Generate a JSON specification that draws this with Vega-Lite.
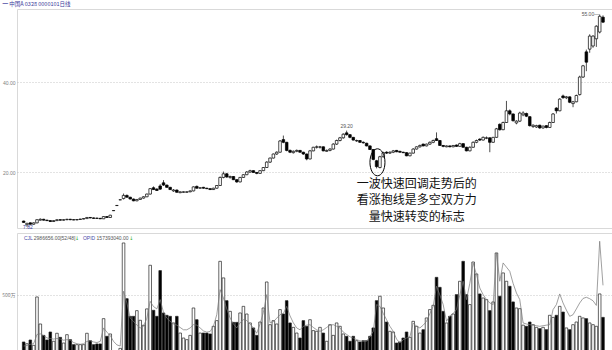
{
"$schema": "https://vega.github.io/schema/vega-lite/v6.json",
"background": "white",
"padding": {"top": 2, "left": 0, "right": 0, "bottom": 0},
"spacing": 1,
"title": {"text": "━ 中国A 0328 0000101日线", "anchor": "start", "frame": "bounds", "fontSize": 5.5, "font": "Noto Sans CJK SC", "fontWeight": "normal", "color": "#3a3a9a", "offset": 1, "dx": 2},
"config": {
"font": "Liberation Sans",
"view": {"stroke": "#d9d9d9", "strokeWidth": 1},
"axis": {"domain": false, "ticks": false, "labelFontSize": 5, "labelColor": "#808080", "labelFont": "Liberation Sans", "labelPadding": 2, "minExtent": 16, "maxExtent": 16, "gridColor": "#b0b0b0", "gridDash": [1, 2], "gridWidth": 0.7}
},
"datasets": {"k": [
{"i":0,"o":9.1,"h":9.2,"l":8.7,"c":8.8,"v":95,"m":60},
{"i":1,"o":8.3,"h":8.7,"l":7.82,"c":8.6,"v":80,"m":65},
{"i":2,"o":8.7,"h":8.8,"l":8.3,"c":8.4,"v":112,"m":75},
{"i":3,"o":8.4,"h":8.8,"l":8.3,"c":8.7,"v":66,"m":80},
{"i":4,"o":8.7,"h":9.5,"l":8.6,"c":9.4,"v":483,"m":160},
{"i":5,"o":9.3,"h":9.7,"l":9.2,"c":9.5,"v":250,"m":165},
{"i":6,"o":9.5,"h":9.6,"l":9.2,"c":9.3,"v":152,"m":150},
{"i":7,"o":9.3,"h":9.4,"l":9.1,"c":9.2,"v":112,"m":130},
{"i":8,"o":9.2,"h":9.3,"l":8.9,"c":9.0,"v":181,"m":125},
{"i":9,"o":9.0,"h":9.3,"l":8.9,"c":9.2,"v":101,"m":120},
{"i":10,"o":9.2,"h":9.5,"l":9.1,"c":9.4,"v":170,"m":125},
{"i":11,"o":9.4,"h":9.5,"l":9.2,"c":9.3,"v":135,"m":120},
{"i":12,"o":9.3,"h":9.5,"l":9.2,"c":9.4,"v":86,"m":110},
{"i":13,"o":9.4,"h":9.6,"l":9.3,"c":9.5,"v":158,"m":115},
{"i":14,"o":9.5,"h":9.6,"l":9.3,"c":9.4,"v":115,"m":110},
{"i":15,"o":9.4,"h":9.5,"l":9.3,"c":9.35,"v":72,"m":90},
{"i":16,"o":9.35,"h":9.5,"l":9.3,"c":9.45,"v":72,"m":80},
{"i":17,"o":9.45,"h":9.6,"l":9.4,"c":9.55,"v":72,"m":75},
{"i":18,"o":9.55,"h":9.7,"l":9.5,"c":9.65,"v":72,"m":80},
{"i":19,"o":9.65,"h":10.0,"l":9.6,"c":9.9,"v":170,"m":100},
{"i":20,"o":9.9,"h":10.0,"l":9.7,"c":9.8,"v":106,"m":105},
{"i":21,"o":9.8,"h":9.9,"l":9.6,"c":9.7,"v":72,"m":95},
{"i":22,"o":9.75,"h":9.85,"l":9.6,"c":9.7,"v":78,"m":90},
{"i":23,"o":9.7,"h":9.8,"l":9.55,"c":9.6,"v":78,"m":100},
{"i":24,"o":9.6,"h":10.2,"l":9.55,"c":10.1,"v":296,"m":216},
{"i":25,"o":10.1,"h":10.2,"l":9.8,"c":9.9,"v":144,"m":180},
{"i":26,"o":9.9,"h":10.5,"l":9.8,"c":10.4,"v":164,"m":150},
{"i":27,"o":11.4,"h":11.44,"l":11.4,"c":11.44,"v":15,"m":100},
{"i":28,"o":12.54,"h":12.58,"l":12.54,"c":12.58,"v":10,"m":70},
{"i":29,"o":13.8,"h":13.84,"l":13.8,"c":13.84,"v":40,"m":60},
{"i":30,"o":14.1,"h":15.22,"l":13.9,"c":14.8,"v":948,"m":532},
{"i":31,"o":14.8,"h":15.0,"l":14.3,"c":14.4,"v":468,"m":431},
{"i":32,"o":14.4,"h":14.5,"l":13.9,"c":14.0,"v":316,"m":300},
{"i":33,"o":14.0,"h":14.1,"l":13.5,"c":13.6,"v":316,"m":273},
{"i":34,"o":13.6,"h":14.0,"l":13.5,"c":13.9,"v":365,"m":240},
{"i":35,"o":13.9,"h":14.3,"l":13.8,"c":14.2,"v":282,"m":216},
{"i":36,"o":14.2,"h":14.6,"l":14.1,"c":14.5,"v":239,"m":230},
{"i":37,"o":14.5,"h":15.2,"l":14.4,"c":15.1,"v":380,"m":300},
{"i":38,"o":15.1,"h":16.4,"l":15.0,"c":16.3,"v":756,"m":445},
{"i":39,"o":16.5,"h":16.8,"l":16.0,"c":16.1,"v":368,"m":400},
{"i":40,"o":16.2,"h":16.4,"l":15.8,"c":15.9,"v":316,"m":380},
{"i":41,"o":16.9,"h":17.3,"l":16.0,"c":16.2,"v":710,"m":460},
{"i":42,"o":17.6,"h":18.2,"l":16.9,"c":17.1,"v":345,"m":350},
{"i":43,"o":17.1,"h":17.2,"l":16.5,"c":16.6,"v":325,"m":300},
{"i":44,"o":16.6,"h":16.7,"l":16.0,"c":16.1,"v":316,"m":273},
{"i":45,"o":15.8,"h":16.2,"l":15.6,"c":16.0,"v":259,"m":250},
{"i":46,"o":16.0,"h":16.1,"l":15.4,"c":15.5,"v":316,"m":240},
{"i":47,"o":15.4,"h":15.7,"l":15.3,"c":15.6,"v":172,"m":220},
{"i":48,"o":15.5,"h":15.7,"l":15.4,"c":15.6,"v":129,"m":200},
{"i":49,"o":15.5,"h":15.7,"l":15.4,"c":15.6,"v":115,"m":200},
{"i":50,"o":15.6,"h":15.9,"l":15.5,"c":15.8,"v":152,"m":216},
{"i":51,"o":15.8,"h":16.8,"l":15.7,"c":16.7,"v":388,"m":244},
{"i":52,"o":16.8,"h":17.0,"l":16.3,"c":16.4,"v":287,"m":240},
{"i":53,"o":16.4,"h":16.6,"l":16.3,"c":16.5,"v":172,"m":216},
{"i":54,"o":16.6,"h":16.7,"l":16.3,"c":16.4,"v":172,"m":190},
{"i":55,"o":16.4,"h":16.5,"l":16.2,"c":16.3,"v":172,"m":180},
{"i":56,"o":16.3,"h":16.4,"l":16.0,"c":16.1,"v":164,"m":185},
{"i":57,"o":16.1,"h":16.5,"l":16.0,"c":16.4,"v":230,"m":230},
{"i":58,"o":16.4,"h":17.1,"l":16.3,"c":17.0,"v":279,"m":330},
{"i":59,"o":17.0,"h":19.0,"l":16.9,"c":18.8,"v":790,"m":546},
{"i":60,"o":18.8,"h":20.1,"l":18.6,"c":19.6,"v":647,"m":474},
{"i":61,"o":19.6,"h":19.8,"l":18.7,"c":18.9,"v":451,"m":380},
{"i":62,"o":18.8,"h":19.2,"l":18.5,"c":19.0,"v":359,"m":302},
{"i":63,"o":19.0,"h":19.1,"l":18.2,"c":18.3,"v":264,"m":250},
{"i":64,"o":18.3,"h":18.4,"l":17.6,"c":17.8,"v":264,"m":216},
{"i":65,"o":17.8,"h":18.9,"l":17.7,"c":18.8,"v":345,"m":260},
{"i":66,"o":18.8,"h":19.5,"l":18.7,"c":19.4,"v":402,"m":287},
{"i":67,"o":19.4,"h":20.2,"l":19.3,"c":20.0,"v":336,"m":280},
{"i":68,"o":20.0,"h":20.5,"l":19.8,"c":20.3,"v":259,"m":250},
{"i":69,"o":20.3,"h":20.4,"l":19.8,"c":19.9,"v":216,"m":216},
{"i":70,"o":19.9,"h":20.0,"l":19.5,"c":19.7,"v":152,"m":170},
{"i":71,"o":19.7,"h":20.4,"l":19.6,"c":20.3,"v":267,"m":250},
{"i":72,"o":20.3,"h":21.1,"l":20.2,"c":21.0,"v":388,"m":350},
{"i":73,"o":21.0,"h":22.4,"l":20.9,"c":22.2,"v":612,"m":503},
{"i":74,"o":22.2,"h":23.2,"l":22.0,"c":23.1,"v":244,"m":260},
{"i":75,"o":23.1,"h":24.1,"l":23.0,"c":24.0,"v":279,"m":270},
{"i":76,"o":24.0,"h":24.6,"l":23.8,"c":24.4,"v":250,"m":300},
{"i":77,"o":24.4,"h":27.1,"l":24.3,"c":26.9,"v":374,"m":330},
{"i":78,"o":27.2,"h":28.1,"l":26.4,"c":26.6,"v":336,"m":340},
{"i":79,"o":26.6,"h":26.7,"l":24.6,"c":24.8,"v":451,"m":402},
{"i":80,"o":24.8,"h":25.0,"l":24.2,"c":24.4,"v":259,"m":320},
{"i":81,"o":24.3,"h":24.8,"l":24.1,"c":24.6,"v":221,"m":260},
{"i":82,"o":24.6,"h":25.0,"l":24.4,"c":24.8,"v":172,"m":216},
{"i":83,"o":24.8,"h":24.9,"l":24.3,"c":24.4,"v":129,"m":200},
{"i":84,"o":24.4,"h":24.5,"l":23.8,"c":24.0,"v":279,"m":230},
{"i":85,"o":24.0,"h":24.1,"l":22.6,"c":22.9,"v":230,"m":240},
{"i":86,"o":22.9,"h":24.9,"l":22.8,"c":24.7,"v":287,"m":244},
{"i":87,"o":24.7,"h":25.6,"l":24.6,"c":25.5,"v":193,"m":220},
{"i":88,"o":25.5,"h":25.9,"l":25.2,"c":25.6,"v":187,"m":200},
{"i":89,"o":25.5,"h":25.8,"l":25.2,"c":25.6,"v":221,"m":187},
{"i":90,"o":25.6,"h":25.7,"l":24.6,"c":24.7,"v":172,"m":200},
{"i":91,"o":24.6,"h":25.0,"l":24.5,"c":24.8,"v":101,"m":220},
{"i":92,"o":24.8,"h":25.3,"l":24.6,"c":25.1,"v":244,"m":240},
{"i":93,"o":25.1,"h":26.4,"l":25.0,"c":26.2,"v":152,"m":244},
{"i":94,"o":26.2,"h":27.2,"l":26.0,"c":27.0,"v":259,"m":230},
{"i":95,"o":27.0,"h":27.8,"l":26.8,"c":27.6,"v":230,"m":216},
{"i":96,"o":27.6,"h":28.6,"l":27.4,"c":28.4,"v":164,"m":180},
{"i":97,"o":28.7,"h":29.2,"l":28.1,"c":28.3,"v":144,"m":160},
{"i":98,"o":28.3,"h":28.4,"l":27.5,"c":27.7,"v":101,"m":140},
{"i":99,"o":27.7,"h":27.8,"l":27.0,"c":27.1,"v":144,"m":129},
{"i":100,"o":26.9,"h":27.2,"l":26.7,"c":27.0,"v":106,"m":115},
{"i":101,"o":27.0,"h":27.1,"l":26.5,"c":26.6,"v":95,"m":105},
{"i":102,"o":26.6,"h":26.8,"l":26.3,"c":26.5,"v":106,"m":101},
{"i":103,"o":26.4,"h":26.5,"l":25.7,"c":25.8,"v":106,"m":101},
{"i":104,"o":25.8,"h":25.9,"l":24.9,"c":25.0,"v":144,"m":140},
{"i":105,"o":25.0,"h":25.1,"l":22.6,"c":22.8,"v":216,"m":187},
{"i":106,"o":22.5,"h":22.7,"l":20.8,"c":21.2,"v":451,"m":417},
{"i":107,"o":21.0,"h":23.6,"l":20.8,"c":23.4,"v":489,"m":402},
{"i":108,"o":23.4,"h":24.5,"l":23.2,"c":24.3,"v":388,"m":340},
{"i":109,"o":24.4,"h":24.6,"l":24.0,"c":24.2,"v":267,"m":287},
{"i":110,"o":24.2,"h":24.6,"l":24.0,"c":24.4,"v":187,"m":230},
{"i":111,"o":24.4,"h":24.9,"l":24.2,"c":24.7,"v":181,"m":187},
{"i":112,"o":24.8,"h":24.9,"l":24.4,"c":24.5,"v":86,"m":120},
{"i":113,"o":24.6,"h":24.7,"l":24.3,"c":24.4,"v":95,"m":86},
{"i":114,"o":24.4,"h":24.5,"l":24.2,"c":24.3,"v":129,"m":115},
{"i":115,"o":24.3,"h":24.4,"l":23.5,"c":23.6,"v":181,"m":129},
{"i":116,"o":23.6,"h":24.3,"l":23.5,"c":24.2,"v":135,"m":140},
{"i":117,"o":24.2,"h":25.3,"l":24.1,"c":25.1,"v":273,"m":259},
{"i":118,"o":25.1,"h":25.7,"l":25.0,"c":25.6,"v":230,"m":230},
{"i":119,"o":25.6,"h":26.1,"l":25.4,"c":25.9,"v":172,"m":216},
{"i":120,"o":26.2,"h":26.3,"l":25.7,"c":25.8,"v":201,"m":240},
{"i":121,"o":25.8,"h":26.3,"l":25.7,"c":26.2,"v":302,"m":273},
{"i":122,"o":26.2,"h":26.8,"l":26.0,"c":26.6,"v":374,"m":340},
{"i":123,"o":26.6,"h":27.2,"l":26.4,"c":27.0,"v":411,"m":402},
{"i":124,"o":27.4,"h":28.8,"l":26.9,"c":27.0,"v":652,"m":575},
{"i":125,"o":27.0,"h":27.1,"l":25.8,"c":25.9,"v":566,"m":500},
{"i":126,"o":25.9,"h":26.0,"l":25.5,"c":25.7,"v":359,"m":417},
{"i":127,"o":25.6,"h":25.9,"l":25.5,"c":25.8,"v":259,"m":273},
{"i":128,"o":25.8,"h":25.9,"l":25.5,"c":25.6,"v":316,"m":320},
{"i":129,"o":25.6,"h":26.0,"l":25.5,"c":25.9,"v":336,"m":340},
{"i":130,"o":26.0,"h":26.1,"l":25.6,"c":25.7,"v":503,"m":374},
{"i":131,"o":25.7,"h":26.5,"l":25.6,"c":26.3,"v":618,"m":500},
{"i":132,"o":26.3,"h":26.4,"l":25.4,"c":25.5,"v":790,"m":618},
{"i":133,"o":25.5,"h":25.6,"l":24.6,"c":24.7,"v":503,"m":460},
{"i":134,"o":24.7,"h":25.7,"l":24.6,"c":25.5,"v":417,"m":600},
{"i":135,"o":25.5,"h":26.8,"l":25.4,"c":26.6,"v":784,"m":776},
{"i":136,"o":26.6,"h":27.2,"l":26.4,"c":27.0,"v":681,"m":675},
{"i":137,"o":27.3,"h":27.5,"l":26.9,"c":27.1,"v":509,"m":560},
{"i":138,"o":27.1,"h":27.9,"l":27.0,"c":27.7,"v":474,"m":503},
{"i":139,"o":27.5,"h":27.9,"l":27.3,"c":27.6,"v":460,"m":460},
{"i":140,"o":27.6,"h":27.7,"l":24.4,"c":26.6,"v":365,"m":431},
{"i":141,"o":26.6,"h":27.8,"l":26.5,"c":27.7,"v":440,"m":417},
{"i":142,"o":27.7,"h":29.8,"l":27.6,"c":29.6,"v":862,"m":862},
{"i":143,"o":30.6,"h":30.8,"l":29.2,"c":29.4,"v":489,"m":618},
{"i":144,"o":29.4,"h":31.2,"l":29.3,"c":31.0,"v":690,"m":776},
{"i":145,"o":31.0,"h":35.8,"l":30.9,"c":33.6,"v":618,"m":740},
{"i":146,"o":33.6,"h":33.9,"l":32.6,"c":32.9,"v":575,"m":704},
{"i":147,"o":32.9,"h":33.0,"l":31.2,"c":31.4,"v":440,"m":600},
{"i":148,"o":30.9,"h":31.5,"l":30.6,"c":31.3,"v":388,"m":517},
{"i":149,"o":31.3,"h":33.4,"l":31.1,"c":33.1,"v":382,"m":460},
{"i":150,"o":32.7,"h":33.5,"l":32.4,"c":33.1,"v":240,"m":259},
{"i":151,"o":33.0,"h":33.2,"l":32.2,"c":32.4,"v":230,"m":250},
{"i":152,"o":32.3,"h":32.4,"l":30.1,"c":30.3,"v":267,"m":244},
{"i":153,"o":30.1,"h":30.6,"l":29.8,"c":30.4,"v":244,"m":240},
{"i":154,"o":30.0,"h":30.5,"l":29.8,"c":30.3,"v":221,"m":235},
{"i":155,"o":30.4,"h":30.5,"l":29.6,"c":29.8,"v":210,"m":230},
{"i":156,"o":29.8,"h":30.3,"l":29.6,"c":30.2,"v":221,"m":235},
{"i":157,"o":30.3,"h":30.4,"l":29.7,"c":29.9,"v":201,"m":240},
{"i":158,"o":29.9,"h":31.2,"l":29.8,"c":31.0,"v":325,"m":244},
{"i":159,"o":31.0,"h":33.1,"l":30.9,"c":32.9,"v":307,"m":374},
{"i":160,"o":34.2,"h":34.4,"l":33.0,"c":33.6,"v":325,"m":417},
{"i":161,"o":33.6,"h":36.4,"l":33.5,"c":36.2,"v":402,"m":509},
{"i":162,"o":36.9,"h":37.2,"l":36.3,"c":36.5,"v":353,"m":431},
{"i":163,"o":36.5,"h":36.9,"l":36.2,"c":36.7,"v":216,"m":370},
{"i":164,"o":36.7,"h":36.8,"l":35.3,"c":35.5,"v":201,"m":316},
{"i":165,"o":35.2,"h":35.8,"l":34.4,"c":35.6,"v":244,"m":330},
{"i":166,"o":35.6,"h":37.2,"l":35.5,"c":37.0,"v":267,"m":380},
{"i":167,"o":37.2,"h":41.4,"l":37.0,"c":41.1,"v":316,"m":431},
{"i":168,"o":41.1,"h":43.8,"l":40.9,"c":43.6,"v":302,"m":470},
{"i":169,"o":46.7,"h":47.2,"l":42.4,"c":44.4,"v":296,"m":480},
{"i":170,"o":47.3,"h":50.6,"l":46.5,"c":50.2,"v":259,"m":468},
{"i":171,"o":48.0,"h":50.4,"l":47.6,"c":50.2,"v":244,"m":450},
{"i":172,"o":49.6,"h":52.6,"l":47.8,"c":52.4,"v":230,"m":410},
{"i":173,"o":51.1,"h":55.0,"l":50.8,"c":54.6,"v":509,"m":963},
{"i":174,"o":54.4,"h":54.8,"l":53.1,"c":53.3,"v":307,"m":583}
]},
"vconcat": [
{
"width": 596, "height": 219,
"data": {"name": "k"},
"layer": [
{"mark": {"type": "rule", "color": "#000", "strokeWidth": 0.7},
 "encoding": {
  "x": {"field": "i", "type": "quantitative", "scale": {"domain": [-0.5, 175.5], "nice": false, "zero": false}, "axis": null},
  "y": {"field": "l", "type": "quantitative", "scale": {"domain": [7.56, 56.22], "nice": false, "zero": false}, "axis": {"values": [20, 40], "format": ".2f", "grid": true, "title": null}},
  "y2": {"field": "h"}}},
{"mark": {"type": "bar", "size": 2.6, "stroke": "#000", "strokeWidth": 0.7},
 "encoding": {
  "x": {"field": "i", "type": "quantitative"},
  "y": {"field": "o", "type": "quantitative"},
  "y2": {"field": "c"},
  "fill": {"condition": {"test": "datum.c < datum.o", "value": "#000"}, "value": "#fff"}}},
{"transform": [{"filter": "datum.i == 97"}],
 "mark": {"type": "text", "fontSize": 5, "color": "#555", "baseline": "bottom", "dy": -1.5},
 "encoding": {"x": {"field": "i", "type": "quantitative"}, "y": {"field": "h", "type": "quantitative"}, "text": {"field": "h", "format": ".2f"}}},
{"transform": [{"filter": "datum.i == 173"}, {"calculate": "format(datum.h, '.2f') + '—'", "as": "lab"}],
 "mark": {"type": "text", "fontSize": 5, "color": "#555", "align": "right", "baseline": "middle", "dx": -0.5},
 "encoding": {"x": {"field": "i", "type": "quantitative"}, "y": {"field": "h", "type": "quantitative"}, "text": {"field": "lab"}}},
{"transform": [{"filter": "datum.i == 1"}],
 "mark": {"type": "text", "fontSize": 5, "color": "#3a3a9a", "align": "left", "baseline": "middle", "dx": -4},
 "encoding": {"x": {"field": "i", "type": "quantitative"}, "y": {"field": "l", "type": "quantitative"}, "text": {"field": "l", "format": ".2f"}}},
{"data": {"values": [{"n": 1}]},
 "mark": {"type": "point", "shape": "M0,-1 A0.556,1 0 1,1 0,1 A0.556,1 0 1,1 0,-1 Z", "size": 729, "filled": false, "stroke": "#000", "strokeWidth": 1, "opacity": 1},
 "encoding": {"x": {"datum": 106.26}, "y": {"datum": 22.16}}},
{"data": {"values": [{"n": 1}]},
 "mark": {"type": "text", "text": ["一波快速回调走势后的", "看涨抱线是多空双方力", "量快速转变的标志"], "font": "Noto Sans CJK SC", "fontSize": 12, "lineHeight": 16.5, "align": "center", "baseline": "top", "color": "#111"},
 "encoding": {"x": {"datum": 118.07}, "y": {"datum": 18.45}}}
]
},
{
"width": 596, "height": 120,
"data": {"name": "k"},
"layer": [
{"mark": {"type": "bar", "size": 2.6, "stroke": "#222", "strokeWidth": 0.7},
 "encoding": {
  "x": {"field": "i", "type": "quantitative", "scale": {"domain": [-0.5, 175.5], "nice": false, "zero": false}, "axis": null},
  "y": {"field": "v", "type": "quantitative", "scale": {"domain": [0, 1034], "nice": false}, "axis": {"values": [500], "labelExpr": "'500万'", "labelFont": "Noto Sans CJK SC", "grid": true, "title": null}},
  "fill": {"condition": {"test": "datum.c < datum.o", "value": "#000"}, "value": "#fff"}}},
{"mark": {"type": "line", "color": "#777", "strokeWidth": 0.7},
 "encoding": {"x": {"field": "i", "type": "quantitative"}, "y": {"field": "m", "type": "quantitative"}}},
{"data": {"values": [{"n": 1}]},
 "mark": {"type": "text", "text": "CJL", "fontSize": 5, "color": "#4a4aa8", "align": "left", "baseline": "middle"},
 "encoding": {"x": {"datum": 0.09}, "y": {"datum": 991}}},
{"data": {"values": [{"n": 1}]},
 "mark": {"type": "text", "text": "2986656.00[52/48]", "fontSize": 5, "color": "#555", "align": "left", "baseline": "middle"},
 "encoding": {"x": {"datum": 3.04}, "y": {"datum": 991}}},
{"data": {"values": [{"n": 1}]},
 "mark": {"type": "text", "text": "↓", "font": "DejaVu Sans", "fontSize": 5, "color": "#22aa22", "align": "left", "baseline": "middle"},
 "encoding": {"x": {"datum": 15.4}, "y": {"datum": 991}}},
{"data": {"values": [{"n": 1}]},
 "mark": {"type": "text", "text": "OPID", "fontSize": 5, "color": "#4a4aa8", "align": "left", "baseline": "middle"},
 "encoding": {"x": {"datum": 17.8}, "y": {"datum": 991}}},
{"data": {"values": [{"n": 1}]},
 "mark": {"type": "text", "text": "157393040.00", "fontSize": 5, "color": "#555", "align": "left", "baseline": "middle"},
 "encoding": {"x": {"datum": 21.9}, "y": {"datum": 991}}},
{"data": {"values": [{"n": 1}]},
 "mark": {"type": "text", "text": "↓", "font": "DejaVu Sans", "fontSize": 5, "color": "#22aa22", "align": "left", "baseline": "middle"},
 "encoding": {"x": {"datum": 31.7}, "y": {"datum": 991}}}
]
}
]
}
